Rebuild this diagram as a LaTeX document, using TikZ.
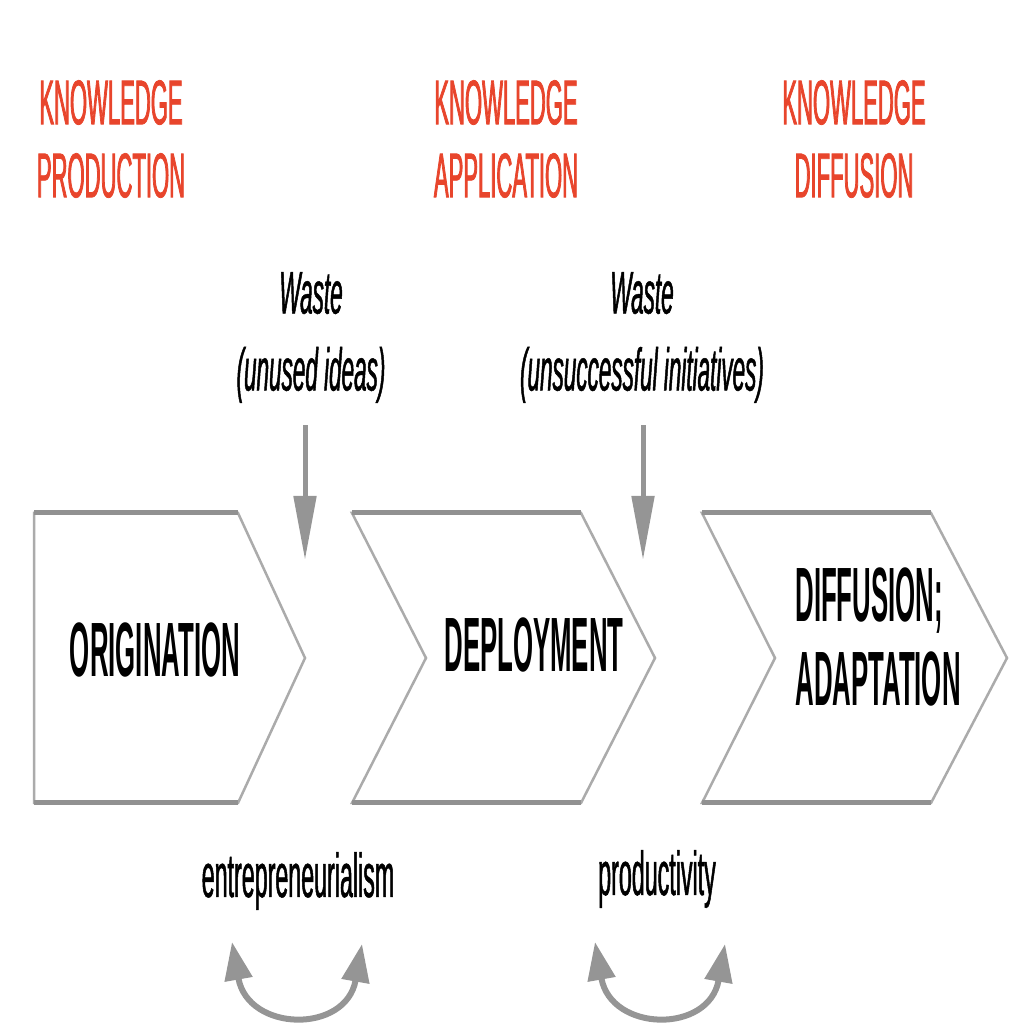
\documentclass[tikz,border=0pt]{standalone}
\usepackage{fontspec}
\setmainfont{Liberation Sans}
\newfontfamily\headfont{Liberation Sans}[FakeStretch=0.35, FakeBold=1.2]
\newfontfamily\stagefont{Liberation Sans}[FakeStretch=0.335]
\newfontfamily\notefont{Liberation Sans}[FakeStretch=0.375, FakeBold=0.8]
\usetikzlibrary{arrows.meta,positioning,calc}
\definecolor{knowred}{HTML}{E8452C}
\definecolor{edgegray}{HTML}{ABABAB}
\definecolor{arrgray}{HTML}{959595}

\begin{document}
\begin{tikzpicture}[x=1pt, y=1pt,
  head/.style={text=knowred, align=center, inner sep=0pt, anchor=north,
               font=\headfont\fontsize{63}{73}\selectfont},
  stage/.style={align=left, inner sep=0pt,
                font=\stagefont\bfseries\fontsize{77}{84}\selectfont},
  note/.style={align=center, inner sep=0pt, anchor=north,
               font=\notefont\itshape\fontsize{60}{77}\selectfont},
  loopnote/.style={inner sep=0pt, anchor=base,
                   font=\notefont\fontsize{62}{70}\selectfont},
  outline/.style={draw=edgegray, line width=2.5pt, line join=miter},
  rim/.style={draw=edgegray!85!black, line width=5pt},
  wastearr/.style={draw=arrgray, line width=5pt, -{Triangle[length=64pt,width=22pt]}},
  cycarr/.style={draw=arrgray, line width=6pt,
                 {Triangle[length=38pt,width=27pt]}-{Triangle[length=38pt,width=27pt]}}]

\useasboundingbox (0,0) rectangle (1027,1030);

% stage chevrons
\draw[outline] (34,517) -- (238,517) -- (305,372) -- (238,227) -- (34,227) -- cycle;
\draw[outline] (352,517) -- (581,517) -- (655,372) -- (581,227) -- (352,227) -- (426,372) -- cycle;
\draw[outline] (702,517) -- (931,517) -- (1007,372) -- (931,227) -- (702,227) -- (775,372) -- cycle;
\draw[rim] (34,517) -- (238,517);   \draw[rim] (34,227) -- (238,227);
\draw[rim] (352,517) -- (581,517);  \draw[rim] (352,227) -- (581,227);
\draw[rim] (702,517) -- (931,517);  \draw[rim] (702,227) -- (931,227);

% column headings
\node[head] (kprod) at (111,950) {KNOWLEDGE\\PRODUCTION};
\node[head] (kapp)  at (506,950) {KNOWLEDGE\\APPLICATION};
\node[head] (kdiff) at (854,950) {KNOWLEDGE\\DIFFUSION};

% stages
\node[stage] (orig) at (155,380) {ORIGINATION};
\node[stage] (depl) at (534,385) {DEPLOYMENT};
\node[stage] (diff) at (878,393) {DIFFUSION;\\ADAPTATION};

% waste
\node[note] (waste1) at (311,758) {Waste\\(unused ideas)};
\node[note] (waste2) at (642,758) {Waste\\(unsuccessful initiatives)};
\coordinate (w1tip) at (305,470);
\coordinate (w2tip) at (643,470);
\draw[wastearr] ($(waste1.south -| w1tip)+(0,-22)$) -- (w1tip);
\draw[wastearr] ($(waste2.south -| w2tip)+(0,-22)$) -- (w2tip);

% feedback loops
\node[loopnote] (entre) at (298,133) {entrepreneurialism};
\node[loopnote] (prodv) at (657,135) {productivity};
\coordinate (c1l) at (232,88);  \coordinate (c1r) at (362,86);
\coordinate (c2l) at (595,88);  \coordinate (c2r) at (725,86);
\draw[cycarr] (c1l) to[out=-80, in=-100, looseness=1.8] (c1r);
\draw[cycarr] (c2l) to[out=-80, in=-100, looseness=1.8] (c2r);
\end{tikzpicture}
\end{document}
